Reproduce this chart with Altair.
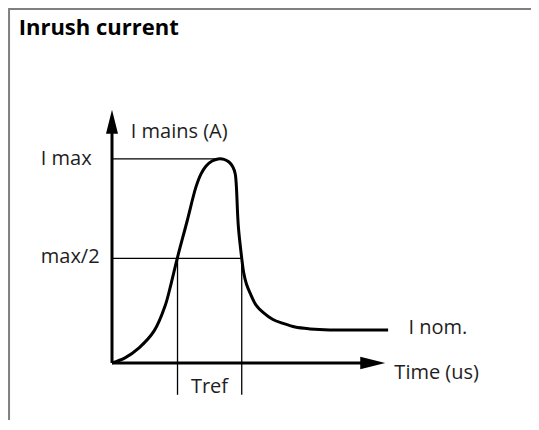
import altair as alt
import pandas as pd

# ---- data (time in arbitrary units, current in % of I max) ----
curve_t = [0, 5.0, 10.4, 16.2, 20.4, 22.7, 25.1, 28.8, 32.3, 34.2, 36.2, 38.5, 40.8,
           43.1, 45.0, 46.5, 47.4, 47.8, 48.6, 49.9, 50.6, 51.7, 53.1, 55.4, 58.1,
           61.9, 65.8, 70.4, 76.2, 83.8, 106.2]
curve_i = [0, 2.5, 7.4, 15.7, 27.9, 38.7, 51.3, 69.1, 86.3, 92.6, 96.6, 99.0, 100.0,
           99.8, 98.5, 96.1, 92.6, 87.3, 66.8, 51.3, 44.6, 38.7, 34.3, 28.4, 24.8,
           21.3, 19.4, 17.6, 16.7, 16.2, 16.2]

i_max = 100.0
i_half = 51.3
t_peak = 40.8
tref = [25.2, 49.9]
tref_bottom = -15.6
x_axis_end = 96.0
y_axis_end = 113.0
y_arrow_center = 118.2
x_arrow_center = 100.3

label_text = ["I mains (A)", "I max", "max/2", "I nom.", "Time (us)"]
label_t = [7.2, -27.4, -27.4, 114.0, 108.6]
label_i = [110.2, 97.1, 49.0, 14.2, -7.8]

tref_label = "Tref"
tref_label_t = 37.5
tref_label_i = -14.7

title_text = "Inrush current"
title_t = -35.9
title_i = 160.8

W = 523
T_MIN = -40.0
T_MAX = T_MIN + W / 2.6
I_MIN, I_MAX = -27.96, 174.0

X = alt.Scale(domain=[T_MIN, T_MAX], nice=False, zero=False)
Y = alt.Scale(domain=[I_MIN, I_MAX], nice=False, zero=False)
FONT = "Open Sans"
INK = "#1e1e1e"

def xe(field):
    return alt.X(field, type="quantitative", scale=X, axis=None)

def ye(field):
    return alt.Y(field, type="quantitative", scale=Y, axis=None)

curve_df = pd.DataFrame({"t": curve_t, "i": curve_i})
curve = alt.Chart(curve_df).mark_line(
    color="black", strokeWidth=3, interpolate="catmull-rom"
).encode(x=xe("t"), y=ye("i"))

hl_df = pd.DataFrame({"t0": [0, 0], "t1": [t_peak, tref[1]], "i": [i_max, i_half]})
hlines = alt.Chart(hl_df).mark_rule(color="black", strokeWidth=1.3).encode(
    x=xe("t0"), x2="t1", y=ye("i"))

vl_df = pd.DataFrame({"t": tref, "i0": [tref_bottom, tref_bottom], "i1": [i_half, i_half]})
vlines = alt.Chart(vl_df).mark_rule(color="black", strokeWidth=1.3).encode(
    x=xe("t"), y=ye("i0"), y2="i1")

xaxis = alt.Chart(pd.DataFrame({"t0": [0], "t1": [x_axis_end], "i": [0]})).mark_rule(
    color="black", strokeWidth=3).encode(x=xe("t0"), x2="t1", y=ye("i"))
yaxis = alt.Chart(pd.DataFrame({"t": [0], "i0": [0], "i1": [y_axis_end]})).mark_rule(
    color="black", strokeWidth=3).encode(x=xe("t"), y=ye("i0"), y2="i1")

up_arrow = alt.Chart(pd.DataFrame({"t": [0], "i": [y_arrow_center]})).mark_point(
    shape="M0,-1L0.5,1L-0.5,1Z", size=576, filled=True, color="black", opacity=1,
    strokeWidth=0).encode(x=xe("t"), y=ye("i"))
right_arrow = alt.Chart(pd.DataFrame({"t": [x_arrow_center], "i": [0]})).mark_point(
    shape="M1,0L-1,0.5L-1,-0.5Z", size=625, filled=True, color="black", opacity=1,
    strokeWidth=0).encode(x=xe("t"), y=ye("i"))

lab_df = pd.DataFrame({"text": label_text, "t": label_t, "i": label_i})
labels = alt.Chart(lab_df).mark_text(
    align="left", baseline="alphabetic", font=FONT, fontSize=20, color=INK
).encode(x=xe("t"), y=ye("i"), text="text:N")

tref_txt = alt.Chart(pd.DataFrame({"text": [tref_label], "t": [tref_label_t], "i": [tref_label_i]})).mark_text(
    align="center", baseline="alphabetic", font=FONT, fontSize=20, color=INK
).encode(x=xe("t"), y=ye("i"), text="text:N")

title = alt.Chart(pd.DataFrame({"text": [title_text], "t": [title_t], "i": [title_i]})).mark_text(
    align="left", baseline="alphabetic", font=FONT, fontSize=22, fontWeight="bold", color="black"
).encode(x=xe("t"), y=ye("i"), text="text:N")

# frame: a box whose right and bottom edges lie beyond the picture
frame = alt.Chart(pd.DataFrame({
    "t0": [T_MIN + 0.4], "t1": [T_MAX + 20], "i0": [I_MIN - 20], "i1": [I_MAX - 0.5]
})).mark_rect(fill="white", fillOpacity=0, stroke="#808080", strokeWidth=2).encode(
    x=xe("t0"), x2="t1", y=ye("i0"), y2="i1")

chart = alt.layer(
    frame, hlines, vlines, xaxis, yaxis, up_arrow, right_arrow,
    curve, labels, tref_txt, title
).properties(
    width=W, height=412, padding=0, autosize=alt.AutoSizeParams(type="none"),
    background="white"
).configure_view(strokeWidth=0, stroke="transparent", fill="white")

chart.save("out.html", embed_options={"renderer": "svg", "actions": False})
